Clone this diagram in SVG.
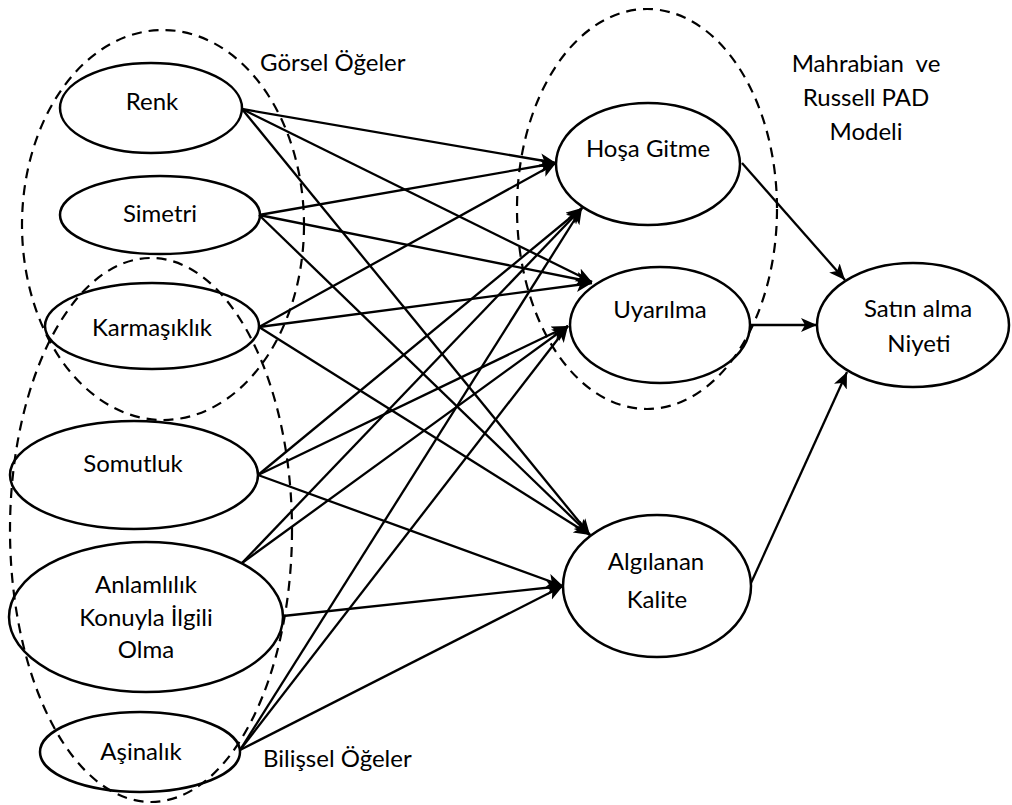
<svg xmlns="http://www.w3.org/2000/svg" width="1012" height="805" viewBox="0 0 1012 805">
<style>
.node{fill:none;stroke:#000;stroke-width:2.5}
.grp{fill:none;stroke:#000;stroke-width:2.2;stroke-dasharray:10 7}
.lbl{font-family:Lato,"Open Sans",sans-serif;font-size:24px;fill:#000;text-anchor:middle}
.cap{font-family:Lato,"Open Sans",sans-serif;font-size:24px;fill:#000}
.edge{fill:none;stroke:#000;stroke-width:2.3;marker-end:url(#arr)}
</style>
<defs>
<marker id="arr" markerUnits="userSpaceOnUse" markerWidth="18" markerHeight="16" refX="16" refY="7" orient="auto">
<path d="M0,0 L16,7 L0,14 L4,7 Z" fill="#000"/>
</marker>
</defs>
<rect width="1012" height="805" fill="#fff"/>

<g id="groups">
<ellipse id="grp-gorsel" class="grp" cx="163" cy="225" rx="141" ry="195"/>
<ellipse id="grp-bilissel" class="grp" cx="151" cy="530" rx="141" ry="272"/>
<ellipse id="grp-pad" class="grp" cx="647" cy="209" rx="130" ry="200"/>
<text class="cap" x="260" y="71">Görsel Öğeler</text>
<text class="cap" x="263" y="767">Bilişsel Öğeler</text>
<text class="lbl" x="866" y="72" xml:space="preserve">Mahrabian  ve</text>
<text class="lbl" x="866" y="106">Russell PAD</text>
<text class="lbl" x="866" y="140">Modeli</text>
</g>

<g id="connectors">
<line class="edge" x1="242" y1="109" x2="556" y2="163"/>
<line class="edge" x1="242" y1="109" x2="592" y2="282"/>
<line class="edge" x1="242" y1="109" x2="590" y2="535"/>
<line class="edge" x1="259" y1="215" x2="556" y2="163"/>
<line class="edge" x1="259" y1="215" x2="592" y2="282"/>
<line class="edge" x1="259" y1="215" x2="590" y2="535"/>
<line class="edge" x1="259" y1="327" x2="556" y2="163"/>
<line class="edge" x1="259" y1="327" x2="592" y2="283"/>
<line class="edge" x1="259" y1="327" x2="590" y2="535"/>
<line class="edge" x1="258" y1="475" x2="582" y2="208"/>
<line class="edge" x1="258" y1="475" x2="568" y2="326"/>
<line class="edge" x1="258" y1="475" x2="563" y2="586"/>
<line class="edge" x1="242" y1="563" x2="582" y2="208"/>
<line class="edge" x1="242" y1="563" x2="568" y2="326"/>
<line class="edge" x1="283" y1="616" x2="563" y2="586"/>
<line class="edge" x1="240" y1="750" x2="582" y2="208"/>
<line class="edge" x1="240" y1="750" x2="568" y2="326"/>
<line class="edge" x1="240" y1="750" x2="563" y2="586"/>
<line class="edge" x1="742" y1="163" x2="845" y2="280"/>
<line class="edge" x1="751" y1="325" x2="817" y2="325"/>
<line class="edge" x1="751" y1="583" x2="847" y2="372"/>
</g>

<g id="n-renk"><ellipse class="node" cx="151" cy="108" rx="91" ry="45"/><text class="lbl" x="152" y="110">Renk</text></g>
<g id="n-simetri"><ellipse class="node" cx="160" cy="215" rx="100" ry="39"/><text class="lbl" x="160" y="222">Simetri</text></g>
<g id="n-karmasiklik"><ellipse class="node" cx="152" cy="326" rx="107" ry="43"/><text class="lbl" x="152" y="336">Karmaşıklık</text></g>
<g id="n-somutluk"><ellipse class="node" cx="134" cy="475" rx="124" ry="54"/><text class="lbl" x="133" y="472">Somutluk</text></g>
<g id="n-anlamlilik"><ellipse class="node" cx="146" cy="617" rx="137" ry="75"/><text class="lbl" x="146" y="593">Anlamlılık</text><text class="lbl" x="146" y="626">Konuyla İlgili</text><text class="lbl" x="146" y="658">Olma</text></g>
<g id="n-asinalik"><ellipse class="node" cx="140" cy="752" rx="100" ry="40"/><text class="lbl" x="141" y="760">Aşinalık</text></g>
<g id="n-hosa"><ellipse class="node" cx="648" cy="164" rx="92" ry="61"/><text class="lbl" x="648" y="157">Hoşa Gitme</text></g>
<g id="n-uyarilma"><ellipse class="node" cx="660" cy="325" rx="90" ry="58"/><text class="lbl" x="660" y="318">Uyarılma</text></g>
<g id="n-algilanan"><ellipse class="node" cx="657" cy="586" rx="94" ry="71"/><text class="lbl" x="656" y="570">Algılanan</text><text class="lbl" x="657" y="608">Kalite</text></g>
<g id="n-satin"><ellipse class="node" cx="913" cy="325" rx="96" ry="62"/><text class="lbl" x="918" y="317">Satın alma</text><text class="lbl" x="919" y="352">Niyeti</text></g>
</svg>
